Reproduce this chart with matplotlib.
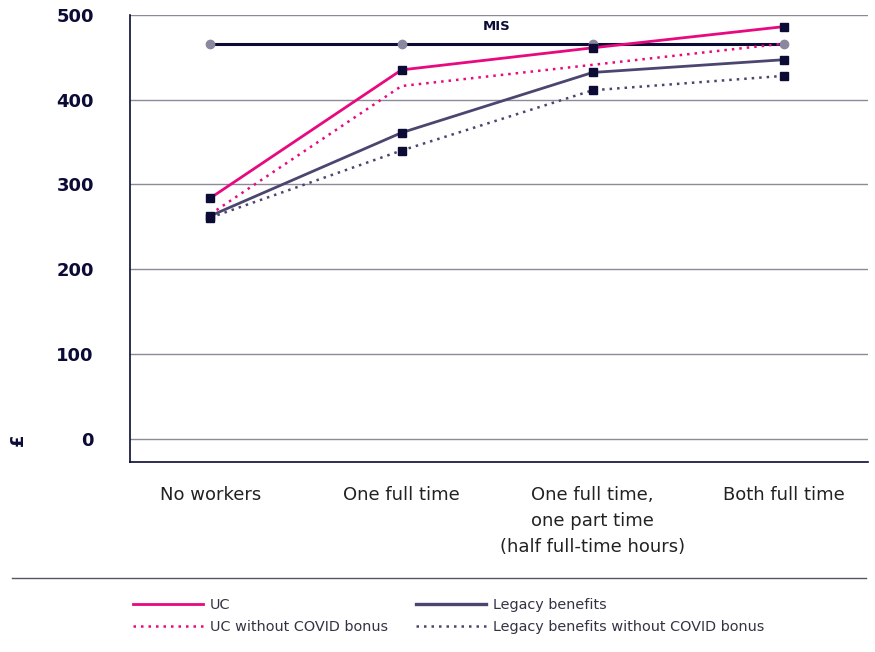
import matplotlib.pyplot as plt
from matplotlib.lines import Line2D

categories = ["No workers", "One full time", "One full time,\none part time\n(half full-time hours)", "Both full time"]
uc = [284, 435, 461, 486]
uc_no_bonus = [265, 416, 441, 466]
legacy = [263, 361, 432, 447]
legacy_no_bonus = [261, 340, 411, 428]
mis = [465, 465, 465, 465]

pink = "#e8097f"
slate = "#4b4670"
navy = "#0b0b35"

fig = plt.figure(figsize=(8.75, 6.52), dpi=100)
ax = fig.add_axes([0.1486, 0.2914, 0.8434, 0.686])
x = range(len(categories))

ax.plot(x, mis, color=navy, lw=2.2, marker="o", ms=6, mfc="#8a879e", mec="#8a879e", zorder=3)
ax.plot(x, uc, color=pink, lw=2, marker="s", ms=6, mfc=navy, mec=navy, zorder=4)
ax.plot(x, uc_no_bonus, color=pink, lw=1.8, ls=(0, (1, 2)), zorder=4)
ax.plot(x, legacy, color=slate, lw=2, marker="s", ms=6, mfc=navy, mec=navy, zorder=4)
ax.plot(x, legacy_no_bonus, color=slate, lw=1.8, ls=(0, (1, 2)), marker="s", ms=6, mfc=navy, mec=navy, zorder=4)
ax.text(1.5, 478, "MIS", fontsize=9.5, fontweight="bold", color=navy, ha="center", va="bottom")

ax.set_xlim(-0.42, 3.44)
ax.set_ylim(-27, 500)
ax.set_yticks(range(0, 501, 100))
ax.yaxis.grid(True, color="#8a8a9a", lw=1)
ax.set_axisbelow(True)
ax.tick_params(axis="y", length=0, pad=26, labelsize=13, labelcolor=navy)
for lbl in ax.get_yticklabels():
    lbl.set_fontweight("bold")
ax.set_xticks(list(x))
ax.set_xticklabels(categories, fontsize=13, color="#222222", linespacing=1.6)
ax.tick_params(axis="x", length=0, pad=17)
for side in ["top", "right"]:
    ax.spines[side].set_visible(False)
for side in ["left", "bottom"]:
    ax.spines[side].set_color(navy)
    ax.spines[side].set_linewidth(1.2)

fig.text(0.02, 0.326, "£", rotation=90, fontsize=13, fontweight="bold", color=navy, ha="center", va="center")

# separator above the legend
fig.add_artist(Line2D([12 / 875, 866 / 875], [1 - 578 / 652] * 2, color="#555566", lw=1))

handles = [
    Line2D([], [], color=pink, lw=2),
    Line2D([], [], color=pink, lw=1.8, ls=(0, (1, 2))),
    Line2D([], [], color=slate, lw=2.4),
    Line2D([], [], color=slate, lw=1.8, ls=(0, (1, 2))),
]
labels = ["UC", "UC without COVID bonus", "Legacy benefits", "Legacy benefits without COVID bonus"]
fig.legend(handles, labels, loc="upper left", bbox_to_anchor=(0.137, 0.102), ncol=2, frameon=False,
           fontsize=10.4, handlelength=4.85, handletextpad=0.5, columnspacing=1.9, labelspacing=0.55,
           labelcolor="#333344")

fig.savefig("out.png", dpi=100)
